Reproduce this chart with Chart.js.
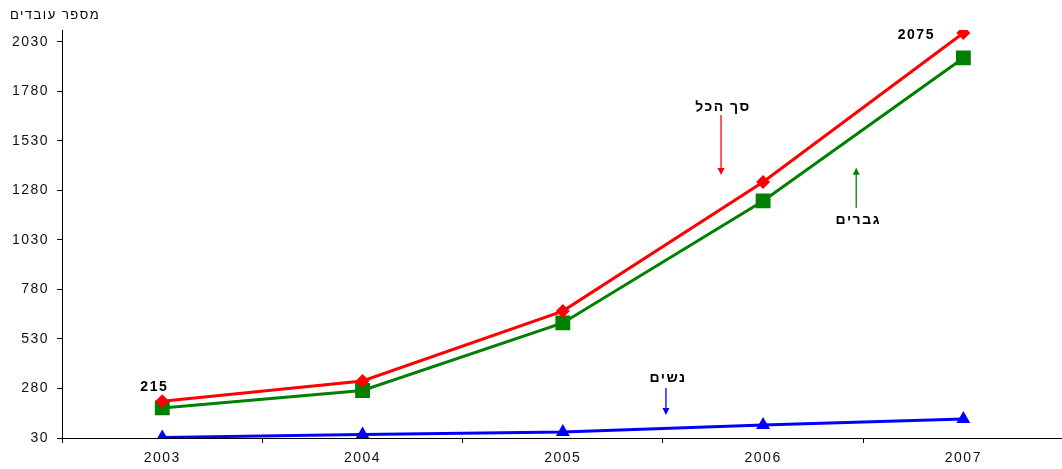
<!DOCTYPE html>
<html><head><meta charset="utf-8">
<script src="https://cdn.jsdelivr.net/npm/chart.js@4/dist/chart.umd.min.js"></script>
<style>html,body{margin:0;background:#fff;overflow:hidden}#w{width:1074px;height:469px;position:relative}canvas{display:block}</style>
</head><body><div id="w"><canvas id="c"></canvas></div>
<script>
const years = ['2003','2004','2005','2006','2007'];
const total = [215, 318, 671, 1323, 2075];
const men = [182, 270, 611, 1227, 1949];
const women = [33, 48, 60, 96, 126];
const yTicks = [30, 280, 530, 780, 1030, 1280, 1530, 1780, 2030];
const yTitle = 'מספר עובדים';
const notes = [
  {text:'סך הכל', color:'#ff0000', x:2.79, ty:1699, y0:1661, y1:1358},
  {text:'גברים', color:'#008000', x:3.465, ty:1131, y0:1192, y1:1394},
  {text:'נשים', color:'#0000ff', x:2.515, ty:333, y0:283, y1:146}
];
const FONT = '"Liberation Sans", Arial, sans-serif';
const SPACING = '1.5px';

const spacing = {
  id:'spacing',
  beforeLayout(chart){ chart.ctx.letterSpacing = SPACING; },
  beforeDraw(chart){ chart.ctx.letterSpacing = SPACING; }
};

const extras = {
  id:'extras',
  afterDatasetsDraw(chart){
    const ctx = chart.ctx, xs = chart.scales.x, ys = chart.scales.y;
    ctx.save();
    ctx.letterSpacing = SPACING;
    ctx.font = '13px ' + FONT; ctx.fillStyle = '#000'; ctx.textAlign='center'; ctx.textBaseline='middle';
    ctx.fillText(yTitle, 55, 15);
    ctx.font = 'bold 14px ' + FONT;
    const m0 = chart.getDatasetMeta(0);
    let p = m0.data[0]; ctx.fillText(String(total[0]), p.x - 8, p.y - 14);
    p = m0.data[4]; ctx.fillText(String(total[4]), p.x - 47, p.y + 2);
    notes.forEach(n => {
      const x = xs.getPixelForValue(n.x);
      ctx.fillStyle = '#000'; ctx.font = 'bold 14px ' + FONT;
      ctx.fillText(n.text, x + 2, ys.getPixelForValue(n.ty));
      const a = ys.getPixelForValue(n.y0), b = ys.getPixelForValue(n.y1);
      const dir = b > a ? 1 : -1;
      ctx.strokeStyle = n.color; ctx.fillStyle = n.color; ctx.lineWidth = 1.3;
      ctx.beginPath(); ctx.moveTo(x, a); ctx.lineTo(x, b - dir*6); ctx.stroke();
      ctx.beginPath(); ctx.moveTo(x, b); ctx.lineTo(x - 3.5, b - dir*7); ctx.lineTo(x + 3.5, b - dir*7); ctx.closePath(); ctx.fill();
    });
    ctx.restore();
  }
};

new Chart(document.getElementById('c'), {
  type:'line',
  data:{labels:years, datasets:[
    {data:total, borderColor:'#ff0000', backgroundColor:'#ff0000', borderWidth:3, pointStyle:'rectRot', pointRadius:7, pointBorderWidth:0, tension:0},
    {data:men, borderColor:'#008000', backgroundColor:'#008000', borderWidth:3, pointStyle:'rect', pointRadius:10.5, pointBorderWidth:0, tension:0},
    {data:women, borderColor:'#0000ff', backgroundColor:'#0000ff', borderWidth:3, pointStyle:'triangle', pointRadius:8, pointBorderWidth:0, tension:0}
  ]},
  options:{
    responsive:true, maintainAspectRatio:false, animation:false,
    layout:{padding:{top:30, right:0, left:4, bottom:0}},
    plugins:{legend:{display:false}, tooltip:{enabled:false}},
    scales:{
      x:{offset:true,
         afterFit(s){ s.paddingRight = 0; s.paddingLeft = 0; s.height = 31; },
         grid:{offset:true, drawOnChartArea:false, drawTicks:true, tickLength:5, color:'#000'},
         border:{color:'#000', width:1},
         ticks:{color:'#111', font:{family:FONT, size:14}, padding:7}},
      y:{min:30, max:2090,
         afterBuildTicks(s){ s.ticks = yTicks.map(v=>({value:v})); },
         grid:{drawOnChartArea:false, drawTicks:true, tickLength:5, color:'#000'},
         border:{color:'#000', width:1},
         ticks:{color:'#111', font:{family:FONT, size:14}, padding:8, callback:v=>String(v)}}
    }
  },
  plugins:[spacing, extras]
});
</script></body></html>
